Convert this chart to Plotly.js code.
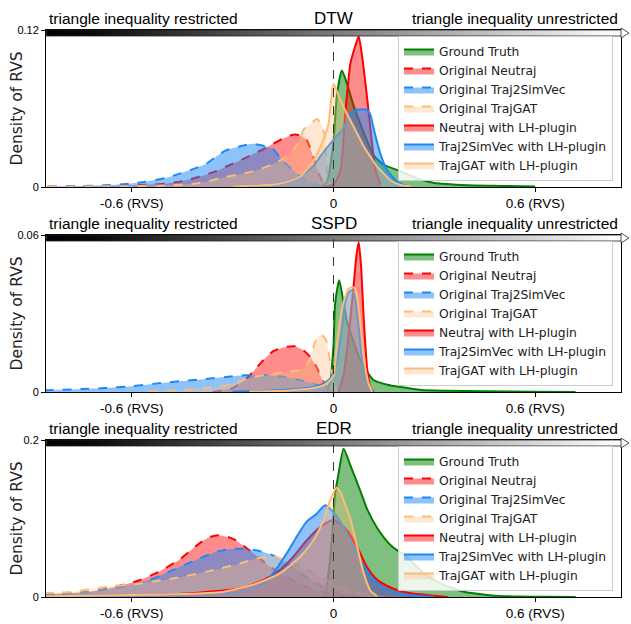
<!DOCTYPE html>
<html>
<head>
<meta charset="utf-8">
<script src="https://cdn.plot.ly/plotly-3.0.1.min.js"></script>
<style>
  html, body { margin: 0; padding: 0; background: #fff; }
  #chart { width: 631px; height: 624px; }
</style>
</head>
<body>
<div id="chart"></div>
<script>
// ---- data ----
const panel_names = ["DTW", "SSPD", "EDR"];
const y_tops = [0.12, 0.06, 0.2];
const y_top_text = ["0.12", "0.06", "0.2"];
const x_tick_vals = [-0.6, 0, 0.6];
const x_tick_text = ["-0.6 (RVS)", "0", "0.6 (RVS)"];
const series_names = ["Ground Truth", "Original Neutraj", "Original Traj2SimVec", "Original TrajGAT",
                      "Neutraj with LH-plugin", "Traj2SimVec with LH-plugin", "TrajGAT with LH-plugin"];

// DTW
const dtw_gt_x = [-0.04,-0.02,0,0.01,0.025,0.04,0.06,0.08,0.1,0.12,0.15,0.2,0.25,0.3,0.4,0.5,0.6];
const dtw_gt_y = [0,0.004,0.035,0.07,0.089,0.079,0.062,0.048,0.035,0.024,0.017,0.012,0.0064,0.003,0.0013,0.0008,0.0003];
const dtw_neu0_x = [-0.85,-0.7,-0.63,-0.55,-0.5,-0.45,-0.4,-0.35,-0.32,-0.28,-0.24,-0.2,-0.18,-0.15,-0.12,-0.1,-0.08,-0.06,-0.045,-0.03,-0.015];
const dtw_neu0_y = [0.0002,0.0006,0.001,0.0018,0.0025,0.0045,0.0078,0.012,0.0155,0.02,0.025,0.03,0.033,0.037,0.04,0.0395,0.036,0.023,0.011,0.003,0];
const dtw_t2s0_x = [-0.85,-0.75,-0.68,-0.6,-0.56,-0.5,-0.46,-0.42,-0.38,-0.35,-0.32,-0.28,-0.24,-0.2,-0.18,-0.15,-0.12,-0.1,-0.08,-0.05,-0.03];
const dtw_t2s0_y = [0.0003,0.0008,0.0013,0.0027,0.004,0.0068,0.01,0.0135,0.0175,0.023,0.028,0.031,0.033,0.031,0.029,0.02,0.0126,0.0085,0.005,0.0015,0];
const dtw_gat0_x = [-0.85,-0.7,-0.6,-0.48,-0.4,-0.32,-0.23,-0.16,-0.12,-0.1,-0.09,-0.065,-0.05,-0.035,-0.025,-0.02,-0.01,0];
const dtw_gat0_y = [0.0002,0.0004,0.0007,0.0013,0.003,0.0077,0.0125,0.02,0.028,0.036,0.0435,0.049,0.052,0.048,0.036,0.014,0.003,0];
const dtw_neu_x = [-0.03,0,0.02,0.035,0.05,0.065,0.075,0.085,0.1,0.11,0.125,0.14];
const dtw_neu_y = [0,0.002,0.012,0.056,0.094,0.108,0.115,0.1,0.068,0.044,0.013,0.002];
const dtw_t2s_x = [-0.3,-0.2,-0.15,-0.1,-0.06,-0.04,-0.02,0,0.03,0.05,0.07,0.1,0.11,0.12,0.14,0.16,0.19,0.22];
const dtw_t2s_y = [0.0003,0.0015,0.003,0.0078,0.016,0.023,0.03,0.036,0.045,0.056,0.059,0.059,0.055,0.044,0.025,0.0126,0.004,0.0005];
const dtw_gat_x = [-0.3,-0.2,-0.16,-0.1,-0.06,-0.03,-0.015,0,0.015,0.03,0.05,0.07,0.09,0.11,0.13,0.15,0.17,0.2,0.23];
const dtw_gat_y = [0.0003,0.0015,0.0025,0.0078,0.02,0.036,0.048,0.079,0.07,0.061,0.051,0.041,0.031,0.023,0.0155,0.01,0.005,0.0015,0.0003];

// SSPD
const sspd_gt_x = [-0.02,-0.01,0,0.005,0.017,0.03,0.04,0.06,0.08,0.1,0.12,0.16,0.2,0.26,0.33,0.45,0.6,0.72];
const sspd_gt_y = [0,0.0038,0.0178,0.034,0.0427,0.034,0.027,0.019,0.012,0.0076,0.0045,0.0028,0.0019,0.0008,0.0005,0.0003,0.0001,0];
const sspd_neu0_x = [-0.36,-0.3,-0.26,-0.24,-0.21,-0.18,-0.15,-0.115,-0.09,-0.07,-0.05,-0.035,-0.02,0];
const sspd_neu0_y = [0,0.0015,0.005,0.0076,0.012,0.0155,0.017,0.0175,0.016,0.0135,0.0095,0.0051,0.0019,0];
const sspd_t2s0_x = [-0.86,-0.75,-0.68,-0.6,-0.53,-0.45,-0.38,-0.3,-0.26,-0.2,-0.15,-0.12,-0.09,-0.06,-0.03,-0.01];
const sspd_t2s0_y = [0.0006,0.0011,0.0015,0.0022,0.0032,0.0042,0.005,0.006,0.0064,0.0064,0.0058,0.0051,0.0042,0.0032,0.0017,0.0005];
const sspd_gat0_x = [-0.55,-0.45,-0.4,-0.32,-0.24,-0.18,-0.14,-0.11,-0.09,-0.07,-0.055,-0.045,-0.037,-0.028,-0.02,-0.01,0,0.01];
const sspd_gat0_y = [0.0002,0.0007,0.0013,0.0025,0.0057,0.007,0.0076,0.0082,0.0089,0.0127,0.0191,0.0215,0.0219,0.021,0.0191,0.0115,0.0038,0];
const sspd_neu_x = [0.015,0.03,0.045,0.06,0.068,0.075,0.082,0.09,0.1,0.11,0.12];
const sspd_neu_y = [0,0.0064,0.0217,0.0408,0.052,0.0573,0.048,0.028,0.009,0.0015,0];
const sspd_t2s_x = [-0.3,-0.18,-0.1,-0.06,-0.03,-0.01,0,0.01,0.025,0.035,0.045,0.055,0.065,0.075,0.085,0.095,0.11,0.12];
const sspd_t2s_y = [0.0002,0.0006,0.0012,0.0019,0.0032,0.0051,0.0075,0.0115,0.0242,0.0344,0.038,0.0389,0.035,0.025,0.012,0.004,0.0008,0];
const sspd_gat_x = [-0.25,-0.13,-0.06,-0.03,-0.01,0,0.01,0.02,0.03,0.045,0.055,0.065,0.075,0.085,0.095,0.105,0.115];
const sspd_gat_y = [0.0002,0.0006,0.0015,0.0025,0.0045,0.0064,0.0178,0.028,0.0344,0.0395,0.04,0.0395,0.032,0.02,0.009,0.003,0];

// EDR
const edr_gt_x = [-0.035,-0.025,-0.015,-0.005,0.005,0.015,0.03,0.05,0.08,0.1,0.13,0.17,0.22,0.27,0.32,0.39,0.43,0.47,0.55,0.63,0.72];
const edr_gt_y = [0,0.004,0.03,0.072,0.132,0.157,0.189,0.168,0.135,0.112,0.088,0.066,0.05,0.03,0.017,0.0064,0.004,0.002,0.0006,0.0002,0];
const edr_neu0_x = [-0.86,-0.73,-0.65,-0.58,-0.52,-0.46,-0.4,-0.37,-0.343,-0.31,-0.29,-0.25,-0.2,-0.16,-0.12,-0.08,-0.03,0.02,0.08];
const edr_neu0_y = [0.0034,0.0064,0.0128,0.021,0.032,0.047,0.068,0.076,0.0786,0.076,0.072,0.0595,0.0425,0.03,0.021,0.0128,0.0064,0.002,0];
const edr_t2s0_x = [-0.86,-0.73,-0.63,-0.55,-0.48,-0.41,-0.35,-0.31,-0.28,-0.23,-0.18,-0.13,-0.08,-0.03,0.02,0.1];
const edr_t2s0_y = [0.003,0.0064,0.0128,0.021,0.034,0.047,0.0574,0.061,0.0616,0.0595,0.053,0.04,0.0255,0.0128,0.0043,0];
const edr_gat0_x = [-0.86,-0.78,-0.68,-0.58,-0.48,-0.38,-0.28,-0.23,-0.18,-0.12,-0.06,0,0.06,0.12,0.2];
const edr_gat0_y = [0.005,0.0064,0.0128,0.017,0.0234,0.032,0.0425,0.0489,0.0519,0.0425,0.03,0.017,0.0064,0.002,0];
const edr_neu_x = [-0.86,-0.58,-0.45,-0.38,-0.28,-0.21,-0.16,-0.12,-0.08,-0.04,0,0.04,0.07,0.1,0.13,0.16,0.19,0.24,0.29,0.34];
const edr_neu_y = [0.0005,0.0021,0.004,0.0064,0.0106,0.021,0.034,0.051,0.072,0.089,0.098,0.085,0.064,0.038,0.022,0.014,0.0086,0.004,0.002,0];
const edr_t2s_x = [-0.86,-0.6,-0.43,-0.35,-0.28,-0.21,-0.18,-0.14,-0.11,-0.08,-0.05,-0.025,0,0.03,0.06,0.09,0.12,0.15,0.19,0.25,0.3];
const edr_t2s_y = [0.001,0.002,0.003,0.0045,0.0064,0.017,0.03,0.055,0.0765,0.096,0.106,0.117,0.108,0.089,0.064,0.04,0.022,0.012,0.005,0.0015,0];
const edr_gat_x = [-0.86,-0.78,-0.6,-0.48,-0.4,-0.33,-0.28,-0.23,-0.16,-0.1,-0.06,-0.03,-0.01,0.008,0.02,0.03,0.05,0.07,0.09,0.11,0.13];
const edr_gat_y = [0.001,0.0013,0.0025,0.0034,0.0045,0.0064,0.011,0.017,0.03,0.051,0.072,0.098,0.123,0.139,0.134,0.123,0.1,0.065,0.03,0.008,0.001];

const panel_series = [
  [[dtw_gt_x, dtw_gt_y], [dtw_neu0_x, dtw_neu0_y], [dtw_t2s0_x, dtw_t2s0_y], [dtw_gat0_x, dtw_gat0_y],
   [dtw_neu_x, dtw_neu_y], [dtw_t2s_x, dtw_t2s_y], [dtw_gat_x, dtw_gat_y]],
  [[sspd_gt_x, sspd_gt_y], [sspd_neu0_x, sspd_neu0_y], [sspd_t2s0_x, sspd_t2s0_y], [sspd_gat0_x, sspd_gat0_y],
   [sspd_neu_x, sspd_neu_y], [sspd_t2s_x, sspd_t2s_y], [sspd_gat_x, sspd_gat_y]],
  [[edr_gt_x, edr_gt_y], [edr_neu0_x, edr_neu0_y], [edr_t2s0_x, edr_t2s0_y], [edr_gat0_x, edr_gat0_y],
   [edr_neu_x, edr_neu_y], [edr_t2s_x, edr_t2s_y], [edr_gat_x, edr_gat_y]]
];

// ---- styles ----
const series_styles = [
  {line: "#008000", fill: "rgba(0,128,0,0.5)",      dash: "solid"},
  {line: "#ff0000", fill: "rgba(255,0,0,0.45)",     dash: "dash"},
  {line: "#1e88f5", fill: "rgba(30,136,245,0.5)",   dash: "dash"},
  {line: "#fbbd7c", fill: "rgba(251,189,124,0.35)", dash: "dash"},
  {line: "#ff0000", fill: "rgba(255,0,0,0.45)",     dash: "solid"},
  {line: "#1e88f5", fill: "rgba(30,136,245,0.5)",   dash: "solid"},
  {line: "#fbbd7c", fill: "rgba(251,189,124,0.35)", dash: "solid"}
];

// figure geometry in px (631 x 624 page)
const fig_w = 631, fig_h = 624;
const m = {l: 46, r: 10, t: 30, b: 27};
const plot_h = fig_h - m.t - m.b;
const plot_w = fig_w - m.l - m.r;
const axis_tops = [30, 235, 440];     // px from top
const axis_bottoms = [187, 392, 597];

function py_to_paper(py) { return (fig_h - m.b - py) / plot_h; }

function bar_source() {
  let svg = '<svg xmlns="http://www.w3.org/2000/svg" width="584" height="12" viewBox="0 0 584 12">' +
    '<defs><linearGradient id="g" x1="0" x2="1" y1="0" y2="0">' +
    '<stop offset="0" stop-color="#000"/><stop offset="0.08" stop-color="#0a0a0a"/><stop offset="1" stop-color="#fff"/>' +
    '</linearGradient></defs>' +
    '<rect x="0.4" y="3" width="575" height="6" fill="url(#g)" stroke="#222" stroke-width="0.8"/>' +
    '<path d="M575,1 L583,6 L575,11 Z" fill="#fff" stroke="#222" stroke-width="0.8"/></svg>';
  return "data:image/svg+xml;charset=utf-8," + encodeURIComponent(svg);
}

let data = [];
let layout = {
  width: fig_w,
  height: fig_h,
  margin: {l: m.l, r: m.r, t: m.t, b: m.b, pad: 0},
  paper_bgcolor: "#fff",
  plot_bgcolor: "#fff",
  font: {family: "Liberation Sans, Arial, sans-serif", size: 13, color: "#000"},
  hovermode: false,
  shapes: [],
  annotations: [],
  images: []
};

for (let p = 0; p < 3; p++) {
  let sfx = p === 0 ? "" : String(p + 1);
  let legend_id = "legend" + sfx;

  for (let s = 0; s < series_names.length; s++) {
    let st = series_styles[s];
    data.push({
      x: panel_series[p][s][0],
      y: panel_series[p][s][1],
      name: series_names[s],
      type: "scatter",
      mode: "lines",
      fill: "tozeroy",
      fillcolor: st.fill,
      line: {color: st.line, width: 2, dash: st.dash, shape: "spline", smoothing: 0.6},
      xaxis: "x" + sfx,
      yaxis: "y" + sfx,
      legend: legend_id
    });
  }

  let dom = [py_to_paper(axis_bottoms[p]), py_to_paper(axis_tops[p])];

  layout["xaxis" + sfx] = {
    domain: [0, 1],
    anchor: "y" + sfx,
    range: [-0.855, 0.855],
    tickvals: x_tick_vals,
    ticktext: x_tick_text,
    ticks: "outside",
    ticklen: 4,
    tickcolor: "#000",
    tickfont: {size: 13.5},
    showline: true,
    linecolor: "#000",
    linewidth: 1,
    mirror: true,
    showgrid: false,
    zeroline: false,
    fixedrange: true
  };
  layout["yaxis" + sfx] = {
    domain: dom,
    anchor: "x" + sfx,
    range: [0, y_tops[p]],
    tickvals: [0, y_tops[p]],
    ticktext: ["0", y_top_text[p]],
    ticks: "outside",
    ticklen: 4,
    tickcolor: "#000",
    tickfont: {size: 11},
    showline: true,
    linecolor: "#000",
    linewidth: 1,
    mirror: true,
    showgrid: false,
    zeroline: false,
    fixedrange: true
  };

  layout[legend_id] = {
    x: (398 - m.l) / plot_w,
    y: py_to_paper(axis_tops[p] + 6),
    xanchor: "left",
    yanchor: "top",
    bgcolor: "rgba(255,255,255,0.85)",
    bordercolor: "#cccccc",
    borderwidth: 1,
    font: {family: "DejaVu Sans", size: 12.3, color: "#222"}
  };

  // zero reference line
  layout.shapes.push({
    type: "line", xref: "x" + sfx, yref: "y" + sfx + " domain",
    x0: 0, x1: 0, y0: 0, y1: 1,
    line: {color: "#333", width: 1, dash: "dash"},
    layer: "above"
  });

  // gradient arrow bar along the top of each panel
  layout.images.push({
    source: bar_source(),
    xref: "paper", yref: "paper",
    x: 0, y: py_to_paper(axis_tops[p] - 3),
    sizex: 584 / plot_w, sizey: 12 / plot_h,
    xanchor: "left", yanchor: "top",
    sizing: "stretch", layer: "above"
  });

  let title_y = py_to_paper(axis_tops[p] - 12);
  layout.annotations.push(
    {text: "triangle inequality restricted", xref: "paper", yref: "paper", x: 0.002, y: title_y,
     xanchor: "left", yanchor: "middle", showarrow: false, font: {size: 15.5}},
    {text: panel_names[p], xref: "paper", yref: "paper", x: 0.5, y: title_y,
     xanchor: "center", yanchor: "middle", showarrow: false, font: {size: 17}},
    {text: "triangle inequality unrestricted", xref: "paper", yref: "paper", x: 0.998, y: title_y,
     xanchor: "right", yanchor: "middle", showarrow: false, font: {size: 15.5}},
    {text: "Density of RVS", xref: "paper", yref: "paper", x: (16 - m.l) / plot_w, y: (dom[0] + dom[1]) / 2,
     xanchor: "center", yanchor: "middle", textangle: -90, showarrow: false,
     font: {family: "DejaVu Sans", size: 15.5, color: "#222"}}
  );
}

Plotly.newPlot("chart", data, layout, {displayModeBar: false, staticPlot: true});
</script>
</body>
</html>
